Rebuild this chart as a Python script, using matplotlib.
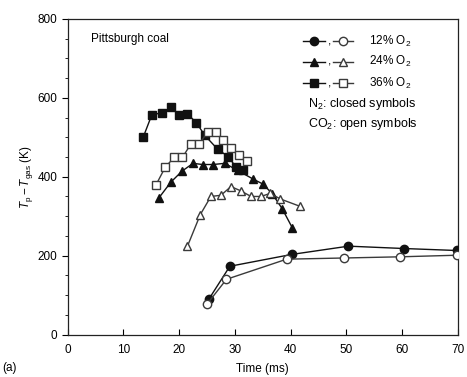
import matplotlib
matplotlib.use("Agg")
import matplotlib.pyplot as plt
from matplotlib.lines import Line2D

plt.rcParams["font.family"] = ["Liberation Sans", "DejaVu Sans"]
plt.rcParams["mathtext.fontset"] = "custom"
plt.rcParams["mathtext.rm"] = "Liberation Sans"
plt.rcParams["mathtext.it"] = "Liberation Sans:italic"

# 12% O2
t_n2_12 = [25.4, 29.1, 40.2, 50.4, 60.4, 69.8]
dT_n2_12 = [91, 173, 203, 224, 218, 213]
t_co2_12 = [25.0, 28.5, 39.3, 49.6, 59.7, 69.8]
dT_co2_12 = [77, 140, 191, 194, 197, 201]

# 24% O2
t_n2_24 = [16.4, 18.5, 20.5, 22.5, 24.2, 26.1, 28.2, 30.5, 33.3, 35.1, 36.7, 38.5, 40.3]
dT_n2_24 = [347, 386, 414, 434, 431, 431, 434, 416, 394, 381, 357, 319, 271]
t_co2_24 = [21.5, 23.8, 25.7, 27.5, 29.3, 31.1, 32.9, 34.7, 36.4, 38.1, 41.7]
dT_co2_24 = [224, 304, 350, 353, 375, 364, 350, 350, 358, 344, 325]

# 36% O2
t_n2_36 = [13.6, 15.1, 16.9, 18.5, 20.0, 21.5, 23.1, 24.6, 26.9, 28.8, 30.2, 31.5]
dT_n2_36 = [502, 557, 562, 576, 557, 559, 537, 505, 470, 451, 425, 416]
t_co2_36 = [15.8, 17.5, 19.1, 20.6, 22.1, 23.6, 25.1, 26.6, 27.9, 29.4, 30.8, 32.2]
dT_co2_36 = [378, 424, 449, 449, 483, 483, 513, 513, 492, 473, 454, 439]

o2_labels = ["12% O$_2$", "24% O$_2$", "36% O$_2$"]
x_ticks = [0, 10, 20, 30, 40, 50, 60, 70]
y_ticks = [0, 200, 400, 600, 800]

CLOSED = "#111111"
OPEN_EDGE = "#3a3a3a"
MS = 6
FS = 8.5

fig = plt.figure(figsize=(4.67, 3.77), dpi=100)
ax = fig.add_axes([0.145, 0.1127, 0.835, 0.837])

series = [
    (t_n2_12, dT_n2_12, t_co2_12, dT_co2_12, "o"),
    (t_n2_24, dT_n2_24, t_co2_24, dT_co2_24, "^"),
    (t_n2_36, dT_n2_36, t_co2_36, dT_co2_36, "s"),
]
for tn, yn, tc, yc, m in series:
    ax.plot(tn, yn, color=CLOSED, lw=1.0, marker=m, ms=MS,
            mfc=CLOSED, mec=CLOSED, zorder=3)
    ax.plot(tc, yc, color=OPEN_EDGE, lw=1.0, marker=m, ms=MS,
            mfc="white", mec=OPEN_EDGE, mew=1.0, zorder=4)

ax.set_xlim(0, 70)
ax.set_ylim(0, 800)
ax.set_xticks(x_ticks)
ax.set_yticks(y_ticks)
ax.set_yticks(range(0, 801, 50), minor=True)
ax.tick_params(axis="x", direction="in", length=4, labelsize=FS, pad=7)
ax.tick_params(axis="y", which="major", direction="out", length=4, labelsize=FS)
ax.tick_params(axis="y", which="minor", direction="out", length=2.5)
for s in ax.spines.values():
    s.set_linewidth(0.9)
    s.set_color("#222222")

ax.set_xlabel("Time (ms)", fontsize=FS, labelpad=5)
ax.set_ylabel(r"$T_\mathrm{p} - T_\mathrm{gas}$ (K)", fontsize=FS, labelpad=2)

ax.text(0.059, 0.938, "Pittsburgh coal", transform=ax.transAxes,
        fontsize=FS, va="center", ha="left")

# hand-built key: closed symbol, comma, open symbol, label
rows = [0.930, 0.864, 0.797]
for y, (_, _, _, _, m), lab in zip(rows, series, o2_labels):
    ax.add_line(Line2D([0.603, 0.660], [y, y], transform=ax.transAxes,
                       color=CLOSED, lw=1.0))
    ax.add_line(Line2D([0.6315], [y], transform=ax.transAxes, marker=m,
                       ms=MS, mfc=CLOSED, mec=CLOSED, ls="none"))
    ax.text(0.667, y, ",", transform=ax.transAxes, fontsize=FS,
            va="center", ha="left")
    ax.add_line(Line2D([0.681, 0.732], [y, y], transform=ax.transAxes,
                       color=OPEN_EDGE, lw=1.0))
    ax.add_line(Line2D([0.7065], [y], transform=ax.transAxes, marker=m,
                       ms=MS, mfc="white", mec=OPEN_EDGE, ls="none"))
    ax.text(0.773, y, lab, transform=ax.transAxes, fontsize=FS,
            va="center", ha="left")

ax.text(0.617, 0.731, "N$_2$: closed symbols", transform=ax.transAxes,
        fontsize=9, va="center", ha="left")
ax.text(0.617, 0.666, "CO$_2$: open symbols", transform=ax.transAxes,
        fontsize=9, va="center", ha="left")

fig.text(0.004, 0.025, "(a)", fontsize=FS, ha="left", va="center")

fig.savefig("out.png", dpi=100)
